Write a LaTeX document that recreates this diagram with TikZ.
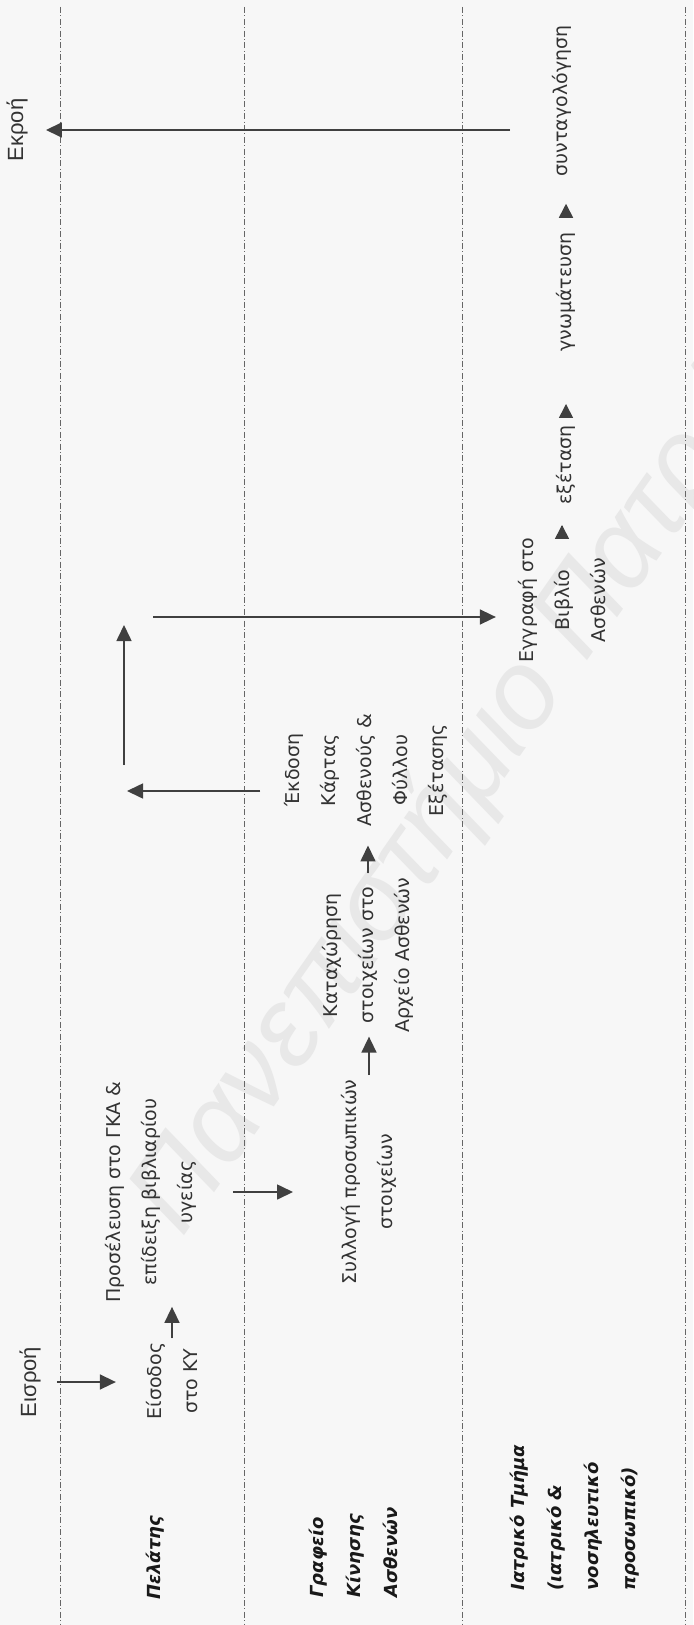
\documentclass[tikz,border=0pt]{standalone}
\usepackage{fontspec}
\setmainfont{DejaVu Sans}
\newfontfamily\arialfont{Liberation Sans}
\usepackage{tikz}
\usetikzlibrary{arrows.meta, calc}
\tikzset{
  task/.style   ={rotate=90, align=center, inner sep=2pt, text=black!80,
                  font=\fontsize{9.5}{18}\selectfont},
  role/.style   ={rotate=90, align=left, anchor=west, inner sep=2pt, text=black!90,
                  font=\fontsize{9}{18.5}\selectfont\bfseries\itshape},
  io/.style     ={rotate=90, inner sep=2pt, text=black!80,
                  font=\arialfont\fontsize{11}{13}\selectfont},
  flow/.style   ={-{Triangle[length=8pt, width=7.5pt]}, line width=0.8pt, draw=black!75, fill=black!75},
  pointer/.style={-{Triangle[length=7pt, width=7pt]}, line width=0.8pt, draw=black!75, fill=black!75},
  lane/.style   ={draw=black!60, line width=0.4pt, dash pattern=on 3pt off 1.2pt on 0.5pt off 1.2pt},
  wmark/.style  ={rotate=55, text=black!9,
                  font=\arialfont\itshape\fontsize{56}{60}\selectfont},
}

\begin{document}
\begin{tikzpicture}[x=0.5pt, y=-0.5pt]
  \useasboundingbox (0,0) rectangle (693,1625);
  \fill[black!3] (0,0) rectangle (693,1625);

  % watermark
  \begin{scope}
    \clip (0,0) rectangle (693,1625);
    \node[wmark] (stamp) at (472,772) {Πανεπιστήμιο Πατρών};
  \end{scope}

  % swimlanes
  \foreach \x in {60,244,462,685}
    \draw[lane] (\x,7) -- (\x,1625);
  \node[role] (client) at (155,1604) {Πελάτης};
  \node[role] (office) at (353,1602) {Γραφείο\\Κίνησης\\Ασθενών};
  \node[role] (medic)  at (575,1595) {Ιατρικό Τμήμα\\(ιατρικό \&\\νοσηλευτικό\\προσωπικό)};

  % steps
  \node[io]   (inflow)   at (30,1382)  {Εισροή};
  \node[task] (entry)    at (172,1381) {Είσοδος\\στο ΚΥ};
  \node[task] (arrive)   at (151,1192) {Προσέλευση στο ΓΚΑ \&\\επίδειξη βιβλιαρίου\\υγείας};
  \node[task] (collect)  at (369,1182) {Συλλογή προσωπικών\\στοιχείων};
  \node[task] (record)   at (368,955)  {Καταχώρηση\\στοιχείων στο\\Αρχείο Ασθενών};
  \node[task] (issue)    at (366,770)  {Έκδοση\\Κάρτας\\Ασθενούς \&\\Φύλλου\\Εξέτασης};
  \node[task] (register) at (562,600)  {Εγγραφή στο\\Βιβλίο\\Ασθενών};
  \node[task] (exam)     at (566,465)  {εξέταση};
  \node[task] (diag)     at (566,292)  {γνωμάτευση};
  \node[task] (presc)    at (562,101)  {συνταγολόγηση};
  \node[io]   (outflow)  at (17,130)   {Εκροή};

  % client lane
  \draw[flow, shorten <=6pt, shorten >=13pt] (inflow.south) -- (inflow.south -| entry.north);
  \draw[flow] (entry.east) -- (entry.east |- arrive.west);
  \draw[flow, shorten <=16pt, shorten >=22pt] (arrive.south) -- (arrive.south -| collect.north);

  % office lane
  \draw[flow] (collect.east) -- (collect.east |- record.west);
  \draw[flow, shorten >=7.5pt] (record.east) -- (record.east |- issue.west);
  \coordinate (back) at (127,791);
  \draw[flow, shorten <=10pt] (issue.north |- back) -- (back);

  % back to the client, then on to the doctor
  \coordinate (wait) at (124,765);
  \coordinate (go)   at (124,625);
  \draw[flow] (wait) -- (go);
  \coordinate (send) at (153,617);
  \draw[flow, shorten >=9pt] (send) -- (send -| register.north);

  % medical lane
  \draw[pointer, shorten <=-3.5pt, shorten >=8pt] (register.east) -- (register.east |- exam.west);
  \draw[pointer, shorten <=2pt, shorten >=24pt] (exam.east) -- (exam.east |- diag.west);
  \draw[pointer, shorten <=6pt, shorten >=11.5pt] (diag.east) -- (diag.east |- presc.west);
  \draw[flow, shorten <=19pt, shorten >=7pt] (presc.north |- outflow.south) -- (outflow.south);
\end{tikzpicture}
\end{document}
